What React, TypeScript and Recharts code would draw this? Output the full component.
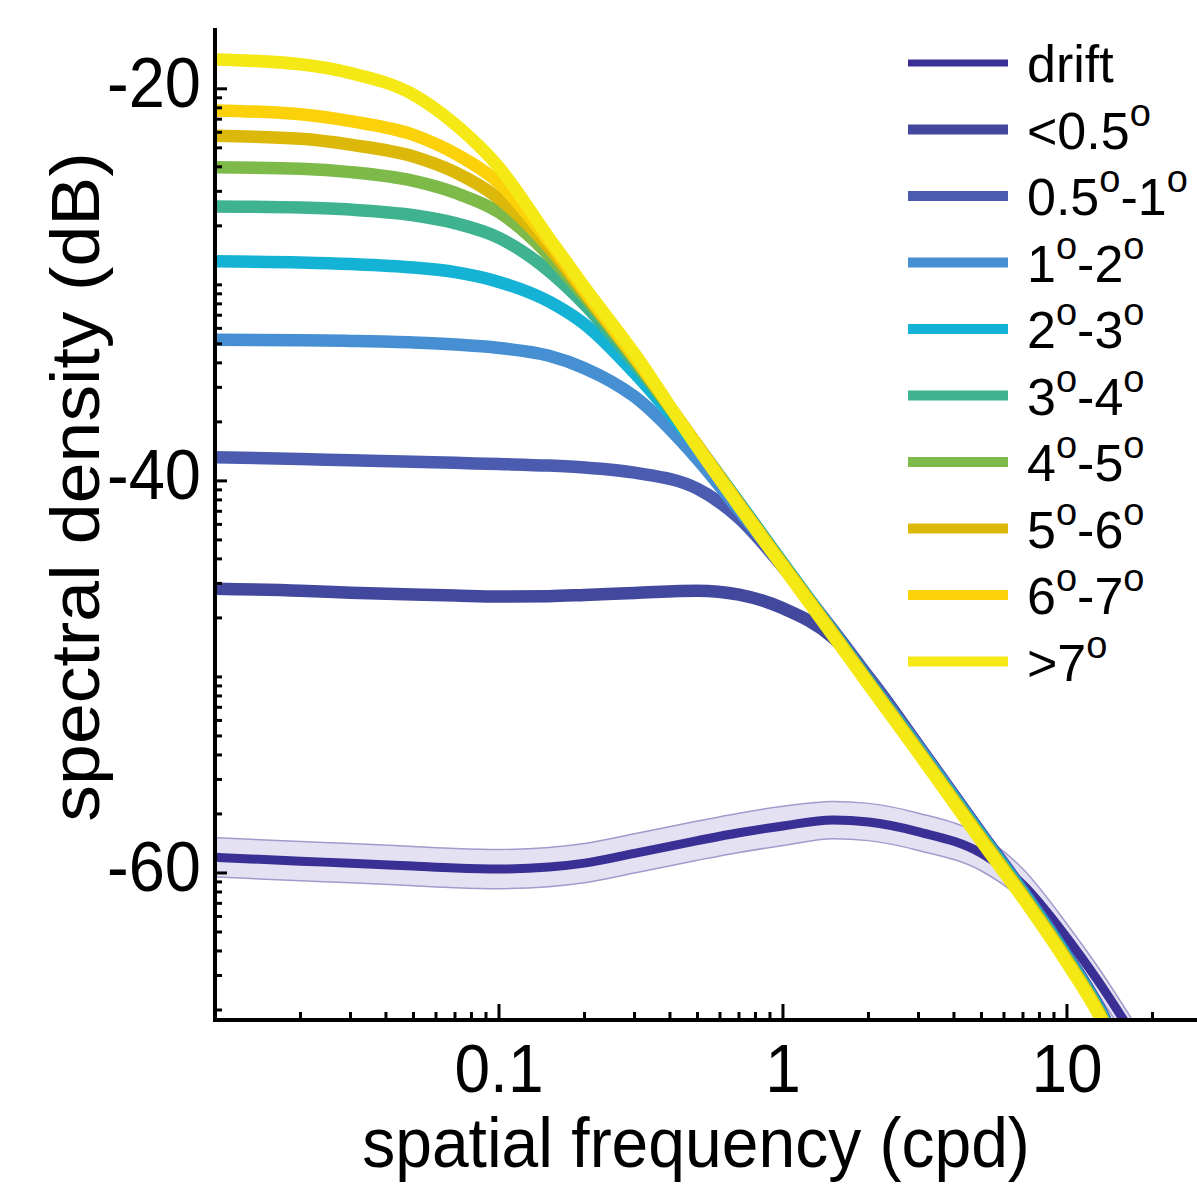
import { Area, ComposedChart, Label, Legend, Line, XAxis, YAxis } from "recharts";

const FONT = "'Liberation Sans', Arial, Helvetica, sans-serif";

// spatial frequency (cpd)
const freqs = [0.01, 0.02, 0.03, 0.05, 0.07, 0.1, 0.15, 0.2, 0.3, 0.5, 0.7, 1, 1.5, 2, 3, 5, 7, 10, 13, 17];

// spectral density (dB), one array per condition
const drift = [-59.2, -59.4, -59.5, -59.65, -59.75, -59.8, -59.7, -59.5, -59.0, -58.35, -57.95, -57.6, -57.3, -57.4, -57.9, -59.0, -60.6, -63.3, -65.6, -68.2];
const driftHigh = [-58.2, -58.4, -58.5, -58.65, -58.75, -58.8, -58.7, -58.5, -58.0, -57.35, -56.95, -56.6, -56.35, -56.45, -56.95, -58.1, -59.8, -62.6, -64.9, -67.5];
const driftLow = [-60.2, -60.4, -60.5, -60.65, -60.75, -60.8, -60.7, -60.5, -60.0, -59.35, -58.95, -58.6, -58.25, -58.35, -58.85, -59.9, -61.4, -64.0, -66.3, -68.9];
const below05 = [-45.5, -45.6, -45.7, -45.8, -45.85, -45.9, -45.88, -45.82, -45.72, -45.6, -45.8, -46.5, -48.0, -50.0, -53.5, -58.0, -60.9, -64.2, -66.9, -70.5];
const from05to1 = [-38.8, -38.88, -38.95, -39.02, -39.08, -39.14, -39.22, -39.32, -39.58, -40.4, -41.9, -44.4, -47.6, -50.0, -53.5, -58.0, -60.9, -64.2, -66.9, -70.5];
const from1to2 = [-32.8, -32.82, -32.86, -32.94, -33.04, -33.22, -33.62, -34.25, -35.7, -38.9, -41.5, -44.3, -47.7, -50.2, -53.6, -58.1, -61.0, -64.3, -67.0, -70.6];
const from2to3 = [-28.8, -28.86, -28.94, -29.12, -29.35, -29.85, -30.85, -32.0, -34.5, -38.3, -41.1, -44.2, -47.7, -50.2, -53.7, -58.1, -61.0, -64.3, -67.0, -70.6];
const from3to4 = [-26.0, -26.06, -26.16, -26.45, -26.85, -27.6, -29.3, -31.0, -34.0, -38.2, -41.1, -44.2, -47.7, -50.2, -53.7, -58.2, -61.1, -64.4, -67.1, -70.7];
const from4to5 = [-24.0, -24.08, -24.25, -24.7, -25.3, -26.3, -28.5, -30.6, -33.8, -38.2, -41.2, -44.3, -47.8, -50.3, -53.8, -58.2, -61.1, -64.4, -67.1, -70.7];
const from5to6 = [-22.4, -22.55, -22.85, -23.45, -24.25, -25.6, -28.1, -30.4, -33.7, -38.2, -41.2, -44.3, -47.8, -50.3, -53.8, -58.3, -61.2, -64.5, -67.2, -70.8];
const from6to7 = [-21.1, -21.3, -21.65, -22.35, -23.3, -24.8, -27.8, -30.3, -33.7, -38.2, -41.2, -44.3, -47.8, -50.3, -53.8, -58.3, -61.2, -64.5, -67.2, -70.8];
const above7 = [-18.5, -18.75, -19.2, -20.3, -21.8, -24.0, -27.6, -30.1, -33.5, -38.3, -41.3, -44.4, -47.9, -50.4, -53.9, -58.4, -61.3, -64.6, -67.3, -71.0];

const seriesNames = ["drift", "<0.5°", "0.5°-1°", "1°-2°", "2°-3°", "3°-4°", "4°-5°", "5°-6°", "6°-7°", ">7°"];
const seriesColors = ["#3a2f94", "#43489f", "#4a5bb0", "#468fd2", "#14b3d6", "#3fb38f", "#7dba4a", "#dbb80a", "#fbd20a", "#f4e815"];
const seriesValues = [drift, below05, from05to1, from1to2, from2to3, from3to4, from4to5, from5to6, from6to7, above7];

// axis ticks
const xTickLabels = [0.1, 1, 10];
const xMinorTicks = [0.02, 0.03, 0.04, 0.05, 0.06, 0.07, 0.08, 0.09, 0.2, 0.3, 0.4, 0.5, 0.6, 0.7, 0.8, 0.9, 2, 3, 4, 5, 6, 7, 8, 9, 20];
const yTickLabels = [-20, -40, -60];
const yDecades = [-20, -30, -40, -50, -60];

const X_DOMAIN = [0.01, 28.7];
const Y_DOMAIN = [-67.5, -17];

const yMinorTicks: number[] = [];
[-30, -40, -50, -60, -70].forEach((d) => {
  for (let m = 2; m <= 9; m++) {
    const v = d + 10 * Math.log10(m);
    if (v >= Y_DOMAIN[0] && v <= Y_DOMAIN[1]) yMinorTicks.push(v);
  }
});
const yTicks = [...yDecades, ...yMinorTicks].sort((a, b) => a - b);
const xTicks = [...xTickLabels, ...xMinorTicks].sort((a, b) => a - b);

const keys = seriesNames.map((_, i) => `s${i}`);
const data = freqs.map((f, i) => {
  const row: Record<string, any> = { f, band: [driftLow[i], driftHigh[i]] };
  keys.forEach((k, j) => {
    row[k] = seriesValues[j][i];
  });
  return row;
});

const XTick = (props: any) => {
  const { x, y, payload } = props;
  const v = payload.value;
  const major = xTickLabels.includes(v);
  return (
    <g>
      <line x1={x} x2={x} y1={y} y2={y - (major ? 16 : 8)} stroke="#000" strokeWidth={3} />
      {major && (
        <text
          transform={`translate(${x},${y + 72}) scale(1,1.08)`}
          textAnchor="middle"
          fontSize={64}
          fontFamily={FONT}
          fill="#000"
        >
          {String(v)}
        </text>
      )}
    </g>
  );
};

const YTick = (props: any) => {
  const { x, y, payload } = props;
  const v = payload.value;
  const major = yTickLabels.includes(v);
  return (
    <g>
      <line x1={x} x2={x + (major ? 12 : 7)} y1={y} y2={y} stroke="#000" strokeWidth={3} />
      {major && (
        <text
          transform={`translate(${x - 14},${y + 18}) scale(1,1.08)`}
          textAnchor="end"
          fontSize={65}
          fontFamily={FONT}
          fill="#000"
        >
          {String(v)}
        </text>
      )}
    </g>
  );
};

const XTitle = (props: any) => {
  const { x, y, width } = props.viewBox;
  return (
    <text
      transform={`translate(${x + width / 2 - 10},${y + 147}) scale(1,1.08)`}
      textAnchor="middle"
      fontSize={66}
      fontFamily={FONT}
      fill="#000"
    >
      spatial frequency (cpd)
    </text>
  );
};

const YTitle = (props: any) => {
  const { y, height } = props.viewBox;
  return (
    <text
      transform={`translate(99,${y + height / 2 - 38}) scale(1,1.08) rotate(-90)`}
      textAnchor="middle"
      fontSize={68}
      fontFamily={FONT}
      fill="#000"
    >
      spectral density (dB)
    </text>
  );
};

function degreeText(name: string) {
  const parts = name.split("°");
  const out: any[] = [];
  parts.forEach((p, i) => {
    if (p) out.push(<tspan key={`t${i}`} dy={i > 0 ? 23 : 0}>{p}</tspan>);
    if (i < parts.length - 1) {
      out.push(
        <tspan key={`o${i}`} fontSize={38} dy={-23}>
          o
        </tspan>
      );
    }
  });
  return out;
}

const renderLegend = () => (
  <svg width={292} height={700}>
    {seriesNames.map((name, i) => {
      const cy = 33 + i * 66.5;
      return (
        <g key={name}>
          <line x1={3} x2={103} y1={cy} y2={cy} stroke={seriesColors[i]} strokeWidth={i === 0 ? 7 : 10} />
          <text x={122} y={cy + 19} fontSize={52} fontFamily={FONT} fill="#000">
            {degreeText(name)}
          </text>
        </g>
      );
    })}
  </svg>
);

export default function App() {
  return (
    <div style={{ position: "absolute", left: 0, top: 0, width: 1197, height: 1190, background: "#fff" }}>
      <ComposedChart width={1197} height={1190} data={data} margin={{ top: 30, right: 0, bottom: 0, left: 0 }}>
        <XAxis
          dataKey="f"
          type="number"
          scale="log"
          domain={X_DOMAIN}
          allowDataOverflow
          ticks={xTicks}
          interval={0}
          tick={<XTick />}
          tickLine={false}
          tickSize={0}
          tickMargin={0}
          height={170}
          axisLine={{ stroke: "#000", strokeWidth: 4, strokeLinecap: "square" }}
        >
          <Label content={<XTitle />} />
        </XAxis>
        <YAxis
          type="number"
          domain={Y_DOMAIN}
          allowDataOverflow
          ticks={yTicks}
          interval={0}
          tick={<YTick />}
          tickLine={false}
          tickSize={0}
          tickMargin={0}
          width={215}
          axisLine={{ stroke: "#000", strokeWidth: 4, strokeLinecap: "square" }}
        >
          <Label content={<YTitle />} />
        </YAxis>
        <Legend
          content={renderLegend}
          layout="vertical"
          align="center"
          verticalAlign="middle"
          wrapperStyle={{ left: 905, top: 30, width: 292, height: 700 }}
        />
        <Area
          type="monotone"
          dataKey="band"
          stroke="#a39bcb"
          strokeWidth={1.5}
          fill="#e4e1f2"
          fillOpacity={1}
          isAnimationActive={false}
          legendType="none"
        />
        {keys.map((k, i) => (
          <Line
            key={k}
            type="monotone"
            dataKey={k}
            name={seriesNames[i]}
            stroke={seriesColors[i]}
            strokeWidth={i === 0 ? 9 : 12.5}
            dot={false}
            activeDot={false}
            isAnimationActive={false}
          />
        ))}
      </ComposedChart>
    </div>
  );
}
